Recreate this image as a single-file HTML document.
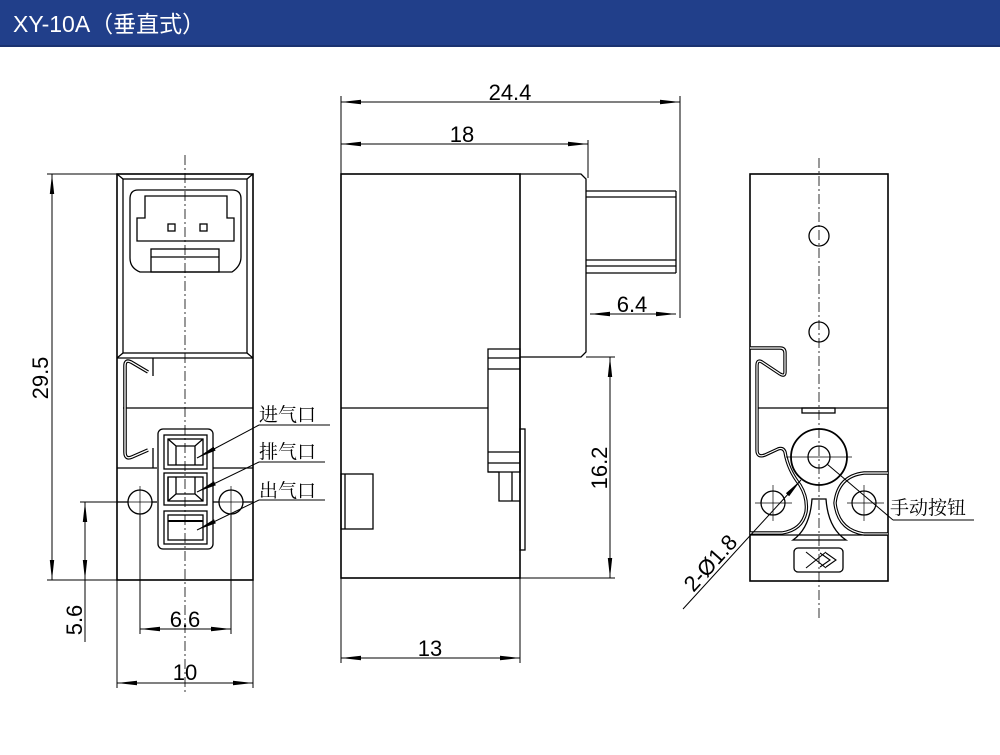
<!DOCTYPE html>
<html><head><meta charset="utf-8"><style>
html,body{margin:0;padding:0;background:#fff;}
svg{display:block}
</style></head><body>
<svg width="1000" height="755" viewBox="0 0 1000 755" xmlns="http://www.w3.org/2000/svg">
<defs>
<marker id="a" viewBox="0 0 20 6" refX="20" refY="3" markerWidth="20" markerHeight="6" markerUnits="userSpaceOnUse" orient="auto-start-reverse"><path d="M0,0.8 L20,3 L0,5.2z" fill="#000"/></marker>
</defs>
<rect x="0" y="0" width="1000" height="45" fill="#213f8a"/>
<rect x="0" y="45" width="1000" height="2" fill="#1a3270"/>
<text x="13" y="32" font-family="Liberation Sans, 'Noto Sans CJK SC', sans-serif" font-size="23" fill="#fff">XY-10A（垂直式）</text>

<g fill="none" stroke="#000" stroke-width="1.3">
<!-- LEFT VIEW -->
<line x1="185" y1="155" x2="185" y2="695" stroke-width="0.8" stroke-dasharray="10,3,2,3"/>
<rect x="117" y="174" width="136" height="406" stroke-width="1.6"/>
<rect x="123" y="179" width="124" height="174"/>
<line x1="117" y1="174" x2="123" y2="179"/><line x1="253" y1="174" x2="247" y2="179"/>
<line x1="117" y1="358" x2="123" y2="353"/><line x1="253" y1="358" x2="247" y2="353"/>
<line x1="117" y1="358" x2="253" y2="358"/>
<path d="M138,190 H232 Q241,190 241,199 V257 Q241,266 232,272 H140 Q130,268 130,258 V199 Q130,190 138,190z"/>
<path d="M145,196 H227 V218 H234 V241 H137 V218 H145z"/>
<rect x="168" y="224" width="7" height="7"/><rect x="200" y="224" width="7" height="7"/>
<rect x="151" y="249" width="68" height="23"/><line x1="151" y1="257" x2="219" y2="257"/>
<line x1="123" y1="408" x2="253" y2="408"/>
<line x1="117" y1="468" x2="157" y2="468"/><line x1="213" y1="468" x2="253" y2="468"/>
<line x1="117" y1="502" x2="128" y2="502"/><line x1="152" y1="502" x2="157" y2="502"/><line x1="213" y1="502" x2="219" y2="502"/><line x1="243" y1="502" x2="253" y2="502"/>
<line x1="153" y1="358" x2="153" y2="376"/><line x1="153" y1="448" x2="153" y2="468"/>
<path d="M148,372 L131,362 Q125,359 125,366 V452 Q125,460 132,457 L148,450" stroke-width="3.6"/>
<path d="M148,372 L131,362 Q125,359 125,366 V452 Q125,460 132,457 L148,450" stroke="#fff" stroke-width="1.3"/>
<circle cx="140" cy="502" r="12"/><circle cx="231" cy="502" r="12"/>
<g stroke-width="0.7"><line x1="124" y1="502" x2="156" y2="502"/><line x1="215" y1="502" x2="247" y2="502"/><line x1="140" y1="486" x2="140" y2="518"/><line x1="231" y1="486" x2="231" y2="518"/></g>
<rect x="158" y="429" width="55" height="120" rx="5"/>
<rect x="164" y="435" width="43" height="34"/><rect x="168" y="439" width="35" height="26"/><path d="M168,439 L176,446 H195 L203,439 M176,446 V465 M195,446 V465"/>
<rect x="164" y="473" width="43" height="32"/><rect x="168" y="477" width="35" height="24"/><path d="M168,477 V501 M176,477 V494 L168,501 M195,477 V494 L203,501 M176,494 H195"/>
<rect x="164" y="511" width="43" height="33"/><rect x="168" y="515" width="35" height="25"/><line x1="168" y1="521" x2="203" y2="521" stroke-width="2"/>
<g stroke-width="1"><line x1="197" y1="458" x2="259" y2="425" marker-start="url(#a)"/><line x1="259" y1="425" x2="330" y2="425"/>
<line x1="197" y1="492" x2="259" y2="462" marker-start="url(#a)"/><line x1="259" y1="462" x2="325" y2="462"/>
<line x1="197" y1="530" x2="259" y2="500" marker-start="url(#a)"/><line x1="259" y1="500" x2="325" y2="500"/></g>
<g stroke-width="1">
<line x1="47" y1="174" x2="117" y2="174"/><line x1="47" y1="580" x2="117" y2="580"/>
<line x1="52" y1="174" x2="52" y2="580" marker-start="url(#a)" marker-end="url(#a)"/>
<line x1="80" y1="502" x2="128" y2="502"/>
<line x1="85" y1="502" x2="85" y2="580" marker-start="url(#a)" marker-end="url(#a)"/><line x1="85" y1="580" x2="85" y2="642"/>
<line x1="140" y1="514" x2="140" y2="634"/><line x1="231" y1="514" x2="231" y2="634"/>
<line x1="140" y1="629" x2="231" y2="629" marker-start="url(#a)" marker-end="url(#a)"/>
<line x1="117" y1="580" x2="117" y2="688"/><line x1="253" y1="580" x2="253" y2="688"/>
<line x1="117" y1="683" x2="253" y2="683" marker-start="url(#a)" marker-end="url(#a)"/>
</g>

<!-- MIDDLE VIEW -->
<rect x="341" y="174" width="179" height="404" stroke-width="1.6"/>
<path d="M520,174 H581 L586,179 V352 L581,357 H520"/>
<line x1="341" y1="408" x2="488" y2="408"/>
<path d="M488,349 H520 V472 H488z"/>
<line x1="488" y1="358" x2="520" y2="358"/><line x1="488" y1="369" x2="520" y2="369"/>
<line x1="488" y1="452" x2="520" y2="452"/><line x1="488" y1="463" x2="520" y2="463"/>
<path d="M488,472 H499 V501 H520 M512,472 V501"/>
<rect x="520" y="429" width="5" height="121"/>
<rect x="341" y="474" width="32" height="55"/><line x1="345" y1="474" x2="345" y2="529"/>
<path d="M586,191 H676 M586,197 H676 M586,260 H676 M586,266 H676 M586,273 H676 M676,191 V273"/>
<g stroke-width="1">
<line x1="341" y1="96" x2="341" y2="663"/><line x1="680" y1="96" x2="680" y2="318"/>
<line x1="341" y1="102" x2="680" y2="102" marker-start="url(#a)" marker-end="url(#a)"/>
<line x1="588" y1="140" x2="588" y2="178"/>
<line x1="341" y1="144" x2="588" y2="144" marker-start="url(#a)" marker-end="url(#a)"/>
<line x1="590" y1="314" x2="676" y2="314" marker-start="url(#a)" marker-end="url(#a)"/>
<line x1="586" y1="357" x2="615" y2="357"/><line x1="520" y1="578" x2="615" y2="578"/>
<line x1="610" y1="357" x2="610" y2="578" marker-start="url(#a)" marker-end="url(#a)"/>
<line x1="520" y1="578" x2="520" y2="663"/>
<line x1="341" y1="658" x2="520" y2="658" marker-start="url(#a)" marker-end="url(#a)"/>
</g>

<!-- RIGHT VIEW -->
<line x1="819" y1="158" x2="819" y2="618" stroke-width="0.8" stroke-dasharray="10,3,2,3"/>
<rect x="750" y="174" width="138" height="407" stroke-width="1.6"/>
<circle cx="819" cy="236" r="10"/><circle cx="819" cy="332" r="10"/>
<line x1="757" y1="408" x2="888" y2="408"/>
<rect x="802" y="408" width="33" height="5"/>
<path d="M750,348 H780 Q785,348 785,353 V372 Q785,377 780,374" stroke-width="3.4"/>
<path d="M750,348 H780 Q785,348 785,353 V372 Q785,377 780,374" stroke="#fff" stroke-width="1.2"/>
<path d="M780,374 L762,362 Q757,359 757,366 V450 Q757,458 765,455 L778,449 Q783,447 785,452 Q788,470 800,485 Q808,498 806,512 Q802,530 782,533 H750" stroke-width="3.4"/>
<path d="M780,374 L762,362 Q757,359 757,366 V450 Q757,458 765,455 L778,449 Q783,447 785,452 Q788,470 800,485 Q808,498 806,512 Q802,530 782,533 H750" stroke="#fff" stroke-width="1.2"/>
<circle cx="819" cy="457" r="28" stroke-width="1.8"/><circle cx="819" cy="457" r="11"/>
<g stroke-width="0.7"><line x1="786" y1="457" x2="852" y2="457"/><line x1="755" y1="503" x2="792" y2="503"/><line x1="847" y1="503" x2="884" y2="503"/><line x1="773" y1="485" x2="773" y2="521"/><line x1="864" y1="485" x2="864" y2="521"/></g>
<circle cx="773" cy="503" r="12"/><circle cx="864" cy="503" r="12"/>
<path d="M888,473 H864 Q838,476 835,503 Q838,530 864,534 H888" stroke-width="3.4"/>
<path d="M888,473 H864 Q838,476 835,503 Q838,530 864,534 H888" stroke="#fff" stroke-width="1.2"/>
<line x1="750" y1="535" x2="888" y2="535"/>
<path d="M812,499 H826 Q828,528 846,540 H793 Q810,528 812,499z"/>
<rect x="794" y="548" width="49" height="24" rx="4"/>
<path d="M806,552 Q816,560 826,568 M806,568 Q816,560 826,552 M820,553 L830,560 L820,567 M826,553 L836,560 L826,567" stroke-width="1.1"/>
<g stroke-width="1">
<line x1="827" y1="464" x2="893" y2="520"/><line x1="893" y1="520" x2="974" y2="520"/>
<line x1="801" y1="480" x2="683" y2="609" marker-start="url(#a)"/>
</g>
</g>

<g font-family="Liberation Sans, sans-serif" font-size="22" fill="#000">
<text transform="translate(48,378) rotate(-90)" text-anchor="middle">29.5</text>
<text transform="translate(82,620) rotate(-90)" text-anchor="middle">5.6</text>
<text x="185" y="627" text-anchor="middle">6.6</text>
<text x="185" y="680" text-anchor="middle">10</text>
<text x="510" y="100" text-anchor="middle">24.4</text>
<text x="462" y="142" text-anchor="middle">18</text>
<text x="632" y="312" text-anchor="middle">6.4</text>
<text transform="translate(607,468) rotate(-90)" text-anchor="middle">16.2</text>
<text x="430" y="656" text-anchor="middle">13</text>
<text transform="translate(716,568) rotate(-48)" text-anchor="middle">2-Ø1.8</text>
</g>
<g font-family="'Noto Serif CJK SC','Noto Sans CJK SC',serif" font-size="19" fill="#000">
<text x="259" y="421">进气口</text>
<text x="259" y="458">排气口</text>
<text x="259" y="497">出气口</text>
<text x="890" y="514">手动按钮</text>
</g>
</svg>
</body></html>
